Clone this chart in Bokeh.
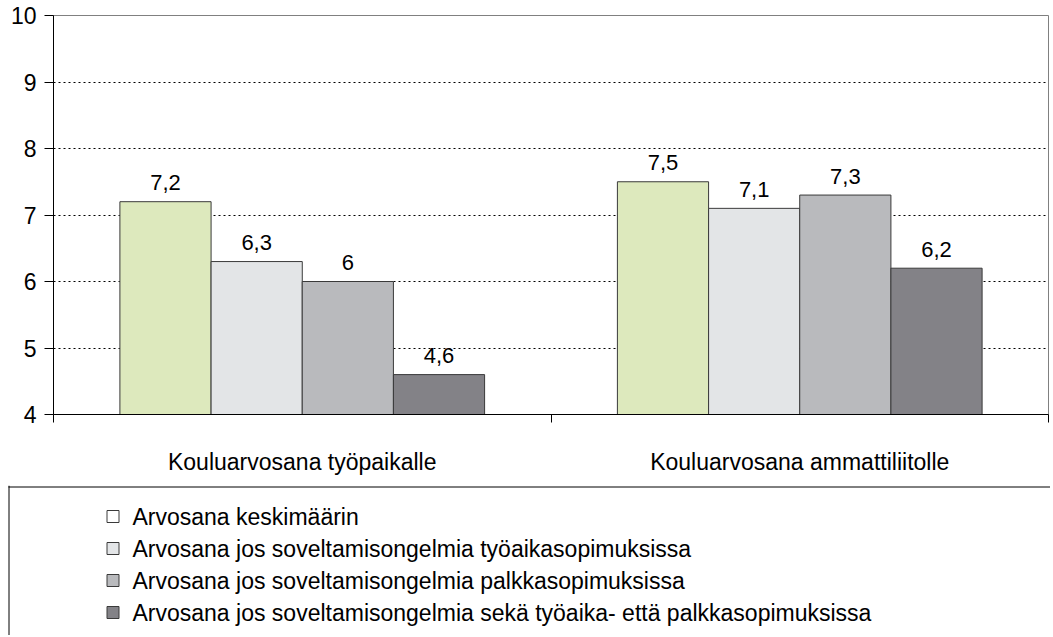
from bokeh.plotting import figure
from bokeh.layouts import column, row
from bokeh.models import ColumnDataSource, Range1d, FixedTicker, Span
from bokeh.transform import dodge
from bokeh.core.properties import value
from bokeh.embed import file_html
from bokeh.resources import INLINE

# ---- data ----
categories = ["Kouluarvosana työpaikalle", "Kouluarvosana ammattiliitolle"]
series = [
    "Arvosana keskimäärin",
    "Arvosana jos soveltamisongelmia työaikasopimuksissa",
    "Arvosana jos soveltamisongelmia palkkasopimuksissa",
    "Arvosana jos soveltamisongelmia sekä työaika- että palkkasopimuksissa",
]
keskimaarin = [7.2, 7.5]
tyoaika = [6.3, 7.1]
palkka = [6.0, 7.3]
molemmat = [4.6, 6.2]
y_ticks = [4, 5, 6, 7, 8, 9, 10]

values = [keskimaarin, tyoaika, palkka, molemmat]
bar_colors = ["#DDE9BD", "#E3E5E7", "#B9BABD", "#838287"]
legend_colors = ["#FFFFFF", "#E3E5E7", "#B9BABD", "#838287"]
offsets = [-0.2749, -0.0916, 0.0916, 0.2749]
bar_w = 0.1833
FONT = "Liberation Sans"

W = 1050
p = figure(width=W, height=485, output_backend="svg", toolbar_location=None,
           x_range=Range1d(0, len(categories)), y_range=Range1d(y_ticks[0], y_ticks[-1]),
           min_border_left=53, min_border_top=15, min_border_bottom=71, min_border_right=2)
p.background_fill_color = "white"
p.border_fill_color = "white"
p.outline_line_color = "#808080"
p.outline_line_width = 1

centers = [i + 0.5 for i in range(len(categories))]

def fmt(v):
    return f"{v:g}".replace(".", ",")

for vals, col, off in zip(values, bar_colors, offsets):
    src = ColumnDataSource(dict(xc=centers, top=vals, bottom=[y_ticks[0]] * len(vals),
                                lbl=[fmt(v) for v in vals]))
    p.vbar(x=dodge("xc", off, range=p.x_range), top="top", bottom="bottom", width=bar_w,
           source=src, fill_color=col, line_color="#3a3a3a", line_width=1)
    p.text(x=dodge("xc", off, range=p.x_range), y="top", text="lbl", source=src,
           text_align="center", text_baseline="middle", y_offset=-19,
           text_font=value(FONT), text_font_size="22px", text_color="black")

# grid
p.xgrid.visible = False
p.ygrid.grid_line_color = "black"
p.ygrid.grid_line_dash = "2 3"
p.ygrid.grid_line_width = 1

# y axis
p.yaxis.ticker = FixedTicker(ticks=y_ticks)
p.yaxis.axis_line_color = "black"
p.yaxis.major_tick_line_color = "black"
p.yaxis.major_tick_out = 9
p.yaxis.major_tick_in = 0
p.yaxis.minor_tick_line_color = None
p.yaxis.major_label_standoff = 8
p.yaxis.major_label_text_font = FONT
p.yaxis.major_label_text_font_size = "23px"
p.yaxis.major_label_text_color = "black"

# x axis
p.xaxis.ticker = FixedTicker(ticks=centers, minor_ticks=list(range(len(categories) + 1)))
p.xaxis.major_label_overrides = {c: name for c, name in zip(centers, categories)}
p.xaxis.axis_line_color = "black"
p.xaxis.major_tick_out = 0
p.xaxis.major_tick_in = 0
p.xaxis.minor_tick_out = 8
p.xaxis.minor_tick_in = 0
p.xaxis.minor_tick_line_color = "black"
p.xaxis.major_label_standoff = 26
p.xaxis.major_label_text_font = FONT
p.xaxis.major_label_text_font_size = "23px"
p.xaxis.major_label_text_color = "black"

# ---- legend panel (y measured upward from the panel bottom) ----
LH = 150
leg = figure(width=W, height=LH, output_backend="svg", toolbar_location=None,
             x_range=Range1d(0, W), y_range=Range1d(0, LH),
             x_axis_location=None, y_axis_location=None,
             min_border=0, min_border_left=0, min_border_right=0,
             min_border_top=0, min_border_bottom=0)
leg.outline_line_color = None
leg.grid.visible = False
leg.background_fill_color = "white"
leg.border_fill_color = "white"
leg.add_layout(Span(location=8.5, dimension="height", line_color="black", line_width=1))
leg.segment(x0=[8], y0=[LH - 1.5], x1=[W], y1=[LH - 1.5], line_color="black", line_width=1)

rows = [LH - (31 + 32 * i) for i in range(len(series))]
lsrc = ColumnDataSource(dict(x=[112.5] * len(series), tx=[132] * len(series), y=rows,
                             name=series, c=legend_colors))
leg.scatter(x="x", y="y", source=lsrc, marker="square", size=12,
            fill_color="c", line_color="#3a3a3a", line_width=1)
leg.text(x="tx", y="y", text="name", source=lsrc, text_baseline="middle",
         text_font=value(FONT), text_font_size="23px", text_color="black")

layout = column(p, row(leg), spacing=0)
open("out.html", "w").write(file_html(layout, INLINE))
